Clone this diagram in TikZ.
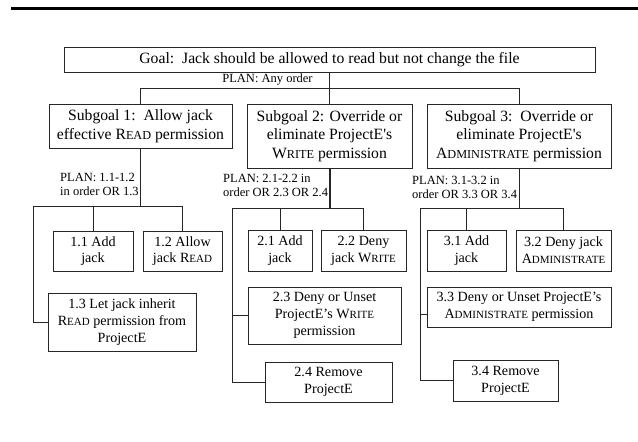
\documentclass[tikz,border=0pt]{standalone}
\usepackage{fontspec}
\setmainfont{Liberation Serif}
\usepackage{graphicx}
\newcommand{\sccap}[2]{#1\scalebox{0.78}{#2}}
\begin{document}
\begin{tikzpicture}[x=1bp,y=-1bp,
  box/.style={draw=black!85, line width=0.9bp, inner sep=0pt, align=center},
  bsz/.style 2 args={minimum width=#1bp, minimum height=#2bp},
  conn/.style={draw=black!85, line width=0.9bp},
  mainf/.style={font=\fontsize{15.7bp}{18.5bp}\selectfont},
  leaff/.style={font=\fontsize{14.1bp}{16.7bp}\selectfont},
  planf/.style={font=\fontsize{12.5bp}{14bp}\selectfont, inner sep=0pt}]
\useasboundingbox (0,0) rectangle (638,442);
\coordinate (ruleL) at (11,8.5);
\coordinate (ruleR) at (638,8.5);
\draw[line width=3bp] (ruleL) -- (ruleR);

% boxes
\node[box, mainf, bsz={531}{25}] (goal) at (329.5,59.5) {Goal:\ \ Jack should be allowed to read but not change the file};
\node[box, mainf, bsz={183}{44}] (sg1) at (140.5,126) {Subgoal 1:\ \ Allow jack\\effective \sccap{R}{EAD} permission};
\node[box, mainf, bsz={165}{64}] (sg2) at (329.5,136) {Subgoal 2: Override or\\eliminate ProjectE\textquotesingle s\\\sccap{W}{RITE} permission};
\node[box, mainf, bsz={184}{64}] (sg3) at (519,136) {Subgoal 3:\ \ Override or\\eliminate ProjectE\textquotesingle s\\\sccap{A}{DMINISTRATE} permission};

\node[box, leaff, bsz={80}{40}] (l11) at (93,251) {1.1 Add\\jack};
\node[box, leaff, bsz={79}{40}] (l12) at (182.5,251) {1.2 Allow\\jack \sccap{R}{EAD}};
\node[box, leaff, bsz={148}{58}] (l13) at (122,322) {1.3 Let jack inherit\\\sccap{R}{EAD} permission from\\ProjectE};

\node[box, leaff, bsz={64}{41}] (l21) at (280,250.5) {2.1 Add\\jack};
\node[box, leaff, bsz={85}{41}] (l22) at (363.5,250.5) {2.2 Deny\\jack \sccap{W}{RITE}};
\node[box, leaff, bsz={153}{57}] (l23) at (324.5,315.5) {2.3 Deny or Unset\\ProjectE’s \sccap{W}{RITE}\\permission};
\node[box, leaff, bsz={127}{40}] (l24) at (328.5,382) {2.4 Remove\\ProjectE};

\node[box, leaff, bsz={79}{41}] (l31) at (466.5,250.5) {3.1 Add\\jack};
\node[box, leaff, bsz={95}{41}] (l32) at (563.5,250.5) {3.2 Deny jack\\\sccap{A}{DMINISTRATE}};
\node[box, leaff, bsz={184}{40}] (l33) at (519,307) {3.3 Deny or Unset ProjectE’s\\\sccap{A}{DMINISTRATE} permission};
\node[box, leaff, bsz={105}{41}] (l34) at (505.5,380.5) {3.4 Remove\\ProjectE};

% plan labels
\node[planf, anchor=base] (p0) at (267.5,83) {PLAN: Any order};
\node[planf, anchor=base west, align=left] (p1) at (60,196) {PLAN: 1.1-1.2\\in order OR 1.3};
\node[planf, anchor=base west, align=left] (p2) at (223,197) {PLAN: 2.1-2.2 in\\order OR 2.3 OR 2.4};
\node[planf, anchor=base west, align=left] (p3) at (412,199) {PLAN: 3.1-3.2 in\\order OR 3.3 OR 3.4};

% top level connectors
\coordinate (h0) at (0,88);
\draw[conn] (goal.south) -- (sg2.north);
\draw[conn] (sg1.north) -- (sg1.north |- h0) -- (sg3.north |- h0) -- (sg3.north);

% tree 1
\coordinate (j1) at (0,206);
\coordinate (t1L) at (33,206);
\draw[conn] (sg1.south) -- (sg1.south |- j1);
\draw[conn] (l11.north) -- (l11.north |- j1);
\draw[conn] (l12.north) -- (l12.north |- j1) -- (t1L) |- (l13.west);

% tree 2
\coordinate (j2) at (0,208);
\coordinate (t2L) at (232,208);
\draw[conn, line width=2bp] (sg2.south) -- (sg2.south |- j2);
\draw[conn] (l21.north) -- (l21.north |- j2);
\draw[conn] (l22.north) -- (l22.north |- j2) -- (t2L) |- (l24.west);
\draw[conn] (t2L |- l23.west) -- (l23.west);

% tree 3
\coordinate (j3) at (0,208);
\coordinate (t3L) at (420,208);
\coordinate (b33) at (420,314);
\draw[conn] (sg3.south) -- (sg3.south |- j3);
\draw[conn] (l31.north) -- (l31.north |- j3);
\draw[conn] (l32.north) -- (l32.north |- j3) -- (t3L) |- (l34.west);
\draw[conn] (b33) -- (b33 -| l33.west);
\end{tikzpicture}
\end{document}
